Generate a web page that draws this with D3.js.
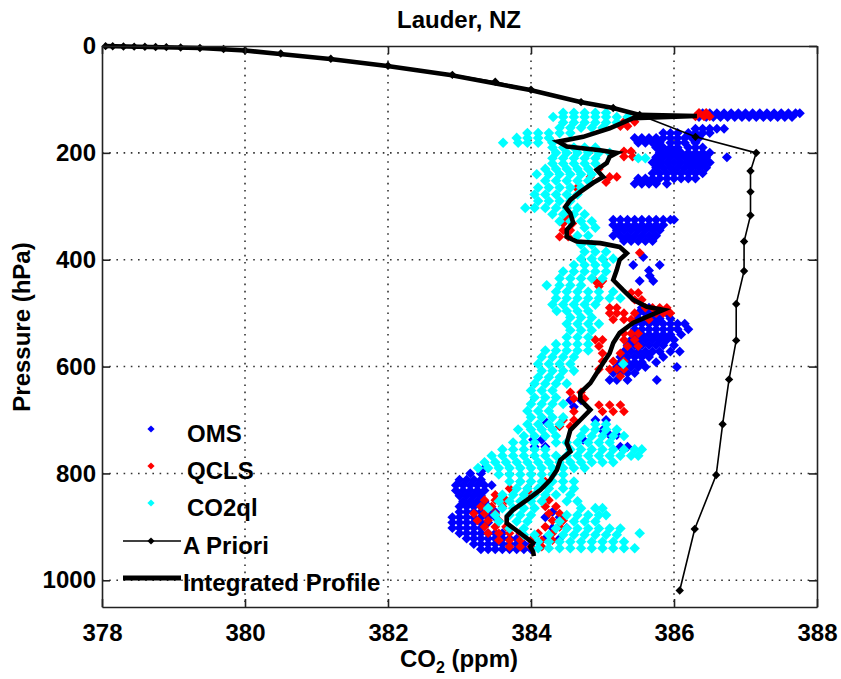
<!DOCTYPE html>
<html><head><meta charset="utf-8">
<script src="https://cdn.jsdelivr.net/npm/d3@7"></script>
<style>
body{margin:0;background:#fff}
svg{display:block}
text{font-family:"Liberation Sans",Arial,Helvetica,sans-serif;font-weight:bold;font-size:24px;fill:#000}
</style>
</head><body>
<svg id="c" width="841" height="679"></svg>
<script>
const xTicks=[378,380,382,384,386,388];
const yTicks=[0,200,400,600,800,1000];
const seriesNames=["OMS","QCLS","CO2ql","A Priori","Integrated Profile"];

// OMS rows: [pressure hPa, [CO2 ppm ...]]
const omsRows=[
[126,[386.4,386.5,386.6,386.7,386.8,386.9,387.0,387.1,387.2,387.3,387.4,387.5,387.6,387.7,387.76]],
[133,[386.35,386.45,386.55,386.65,386.75,386.85,386.95,387.05,387.15,387.25,387.35,387.45,387.55,387.65]],
[155,[386.3,386.4,386.5,386.6,386.7]],
[163,[385.85,385.95,386.05,386.2,386.3,386.4,386.5]],
[172,[385.45,385.55,385.65,385.75,385.85,385.95,386.05,386.15,386.25,386.35]],
[181,[385.5,385.6,385.7,385.8,385.95,386.05,386.15,386.3]],
[190,[385.75,385.85,385.95,386.05,386.2,386.3,386.4]],
[200,[385.8,385.9,386.0,386.1,386.2,386.3,386.4,386.5]],
[208,[385.75,385.85,385.95,386.05,386.15,386.25,386.35,386.45,386.74]],
[218,[385.7,385.8,385.9,386.0,386.1,386.2,386.3,386.4,386.5]],
[228,[385.75,385.85,385.95,386.05,386.15,386.25,386.35,386.45]],
[238,[385.7,385.8,385.9,386.0,386.1,386.2,386.3,386.4]],
[248,[385.5,385.6,385.7,385.8,385.9,386.0,386.1,386.2,386.3]],
[258,[385.45,385.55,385.65,385.75,385.9]],
[325,[385.15,385.25,385.35,385.45,385.55,385.65,385.75,385.85,385.95,386.0]],
[335,[385.15,385.25,385.35,385.45,385.55,385.65,385.75,385.85]],
[345,[385.2,385.3,385.4,385.5,385.6,385.7,385.8]],
[355,[385.15,385.25,385.35,385.45,385.55,385.65,385.75]],
[365,[385.3,385.4,385.5,385.6,385.7]],
[395,[385.57]],[410,[385.43,385.8]],[420,[385.65]],[430,[385.66]],[440,[385.52,385.71]],
[490,[385.55,385.65]],
[500,[385.5,385.6,385.7,385.8,385.9]],
[510,[385.5,385.6,385.7,385.8,385.95]],
[520,[385.45,385.55,385.65,385.75,385.85,385.95,386.05,386.15]],
[530,[385.45,385.55,385.65,385.75,385.85,385.95,386.05,386.2]],
[540,[385.45,385.55,385.65,385.75,385.85,385.95,386.1]],
[550,[385.4,385.5,385.6,385.7,385.8,385.9,386.0]],
[560,[385.35,385.45,385.55,385.65,385.75,385.85,386.0]],
[572,[385.3,385.4,385.5,385.6,385.7,385.8,385.95,386.08]],
[582,[385.25,385.35,385.45,385.55,385.65,385.85]],
[592,[385.25,385.35,385.45,385.55,385.75]],
[601,[385.2,385.3,385.4,385.5,385.6,386.04]],
[612,[385.15,385.25,385.35,385.45]],
[625,[385.1,385.2,385.35,385.76]],
[663,[384.55,384.7]],[675,[384.6]],[700,[384.9,385.05]],[705,[384.22]],[719,[385.0]],
[728,[385.1,385.2]],[737,[384.03,384.15,384.73]],[750,[384.05,384.2,385.25,385.35]],
[790,[383.35]],[800,[383.15,383.3]],
[812,[383.0,383.1,383.2,383.3]],
[822,[382.95,383.05,383.15,383.25,383.35,383.45]],
[832,[382.95,383.05,383.15,383.25,383.35]],
[842,[383.0,383.1,383.2,383.3]],
[852,[383.05,383.15,383.25,383.35]],
[862,[383.0,383.1,383.2,383.3,383.4]],
[872,[383.0,383.1,383.2,383.3,383.4,383.5,384.3]],
[882,[382.9,383.0,383.1,383.2,383.3,383.4,383.5,384.2,384.4]],
[892,[382.9,383.0,383.1,383.2,383.3,383.4]],
[902,[382.9,383.0,383.1,383.2,383.3,384.3,384.5]],
[912,[383.0,383.1,383.2,383.3,383.4,383.5,383.6]],
[922,[383.1,383.2,383.3,383.4,383.5,383.6,383.7,383.8,384.2,384.4]],
[932,[383.2,383.3,383.4,383.5,383.6,383.7,383.8,383.9,384.0]],
[942,[383.3,383.4,383.5,383.6,383.7,383.8,383.9,384.0]]
];

// QCLS rows
const qclsRows=[
[125,[386.35,386.45]],[132,[386.3,386.42,386.5]],
[142,[385.3,385.45]],[150,[385.25,385.35]],[180,[384.3]],[197,[385.3,385.4]],[207,[385.3,385.42]],
[230,[384.95]],[245,[384.83,385.1,385.2]],[255,[385.05]],[266,[384.64]],
[322,[384.5]],[332,[384.45,384.58]],[345,[384.45,384.55]],[357,[384.4,384.52]],
[387,[385.52]],[440,[384.9,385.0]],[450,[384.95]],
[462,[385.4,385.5]],[475,[385.45,385.55]],
[490,[385.1,385.2,385.6,385.7,385.8,385.9]],
[500,[385.1,385.2,385.3,385.45,385.75,385.85,385.95]],
[512,[385.15,385.3,385.4,385.65]],
[538,[385.3,385.4,385.5]],[550,[384.9,385.0,385.3,385.45]],
[562,[384.95,385.35,385.5]],[575,[385.0,385.25]],
[590,[385.0,385.15,385.3]],[605,[384.95,385.1,385.2,385.3]],[618,[385.25]],
[648,[384.55,384.7]],[660,[384.6,384.75]],
[672,[384.95,385.1,385.25]],[684,[384.6,385.0,385.15,385.3]],
[700,[384.45,384.6]],[712,[384.4,384.55]],
[815,[383.85,384.0,384.2]],[828,[383.7,383.95]],[840,[383.5,384.0]],
[850,[383.35,383.5,383.65,384.25]],
[862,[383.3,383.45,383.6,384.2,384.35]],
[875,[383.2,383.35,383.5,384.25,384.4]],
[888,[383.25,383.4,383.55,384.3,384.45]],
[900,[383.35,383.5,383.65,384.2,384.4]],
[912,[383.4,383.55,383.7,383.85,384.1,384.3]],
[925,[383.55,383.7,383.85,384.0,384.15,384.3]],
[937,[383.7,383.85,384.0,384.15]]
];

// CO2ql rows
const co2qlRows=[
[125,[384.45,384.6,384.75,384.9,385.05]],
[133,[384.31,384.45,384.6,384.75,384.9,385.05,385.2,385.35]],
[143,[384.45,384.6,384.75,384.9,385.05,385.2]],
[153,[384.4,384.55,384.7,384.85,385.0]],
[163,[383.95,384.1,384.25,384.4,384.55]],
[172,[383.8,383.95,384.1,384.25]],
[181,[383.61,383.82,383.95,384.1,384.3]],
[190,[384.3,384.45,384.6,384.75,384.9]],
[200,[384.35,384.5,384.65,384.8,384.95,385.1]],
[210,[384.3,384.45,384.6,384.75,384.9,385.5,385.6]],
[220,[384.3,384.45,384.6,384.75,384.9]],
[230,[384.2,384.35,384.5,384.65,384.8]],
[240,[384.08,384.25,384.4,384.55,384.7,384.85]],
[252,[384.2,384.35,384.5,384.65,384.8]],
[265,[384.1,384.25,384.4,384.55,384.7]],
[278,[384.05,384.2,384.35,384.5,384.65]],
[290,[384.1,384.25,384.4,384.55]],
[303,[383.92,384.05,384.2,384.35,384.5,384.65]],
[315,[384.3,384.45,384.6,384.75]],
[328,[384.4,384.55,384.7,384.85]],
[340,[384.75,384.9]],[355,[384.65,384.8]],[372,[384.7,384.85]],
[385,[384.75,384.9,385.05]],
[398,[384.7,384.85,385.0,385.15]],
[410,[384.6,384.75,384.9,385.05]],
[422,[384.45,384.6,384.75,384.9,385.05]],
[435,[384.4,384.55,384.7,384.85,385.0]],
[448,[384.22,384.4,384.55,384.7]],
[460,[384.35,384.5,384.65,384.8,384.95,385.15]],
[472,[384.35,384.5,384.65,384.8,384.95,385.1,385.25]],
[484,[384.3,384.45,384.6,384.75,384.9]],
[496,[384.36,384.5,384.65,384.8]],
[508,[384.55,384.7,384.85]],
[520,[384.5,384.65,384.8,384.95]],
[532,[384.55,384.7,384.85]],
[545,[384.5,384.65,384.8]],
[558,[384.35,384.5,384.65,384.8]],
[570,[384.2,384.35,384.5,384.65,384.8]],
[582,[384.15,384.3,384.45,384.6]],
[595,[384.1,384.25,384.4,384.55,385.29]],
[608,[384.15,384.3,384.45,384.6]],
[620,[384.1,384.25,384.4]],
[632,[384.05,384.2,384.35,384.5]],
[645,[384.0,384.15,384.3]],
[658,[384.05,384.2,384.35]],
[670,[384.0,384.15,384.3,384.45]],
[683,[383.95,384.1,384.25]],
[695,[384.0,384.15,384.3,384.45]],
[708,[383.95,384.1,384.25,384.4,384.9,385.05]],
[718,[383.82,384.0,384.15,384.3,384.75,384.9,385.05,385.2]],
[730,[383.9,384.05,384.2,384.35,384.7,384.85,385.0,385.15,385.3]],
[742,[383.75,383.9,384.05,384.35,384.5,384.65,384.8,384.95,385.1]],
[755,[383.6,383.75,383.9,384.05,384.2,384.55,384.7,384.85,385.0,385.15,385.3,385.45,385.55]],
[767,[383.45,383.6,383.75,383.9,384.05,384.2,384.35,384.5,384.65,384.8,384.95,385.1,385.25,385.4,385.5]],
[779,[383.35,383.5,383.65,383.8,383.95,384.1,384.25,384.4,384.55,384.7,384.85,385.0,385.15]],
[790,[383.26,383.4,383.55,383.7,383.85,384.0,384.15,384.3,384.45,384.6,384.75]],
[802,[383.55,383.7,383.85,384.0,384.15,384.3,384.45]],
[815,[383.7,383.85,384.0,384.15,384.3,384.45,384.6]],
[828,[383.8,383.95,384.1,384.25,384.45,384.6]],
[840,[383.6,383.75,383.9,384.05,384.2,384.35,384.55]],
[852,[383.55,383.7,383.85,384.0,384.15,384.5,384.65]],
[865,[383.4,383.6,383.75,383.9,384.05,384.7,384.9,385.0]],
[878,[383.5,383.7,383.85,384.0,384.5,384.65,384.8,384.95,385.05]],
[890,[383.55,383.8,383.95,384.4,384.6,384.75,384.9]],
[903,[383.7,383.9,384.35,384.5,384.65,384.8,384.95,385.1,385.25]],
[912,[385.52]],
[915,[383.9,384.05,384.25,384.45,384.6,384.75,384.9,385.05,385.2]],
[928,[384.1,384.25,384.4,384.55,384.7,384.85,385.0,385.15,385.3]],
[940,[384.1,384.25,384.4,384.55,384.7,384.85,385.0,385.15,385.3,385.45]]
];

// A priori profile: [CO2 ppm, pressure hPa]
const aprioriCO2=[378.05,378.15,378.3,378.45,378.6,378.75,378.9,379.1,379.37,379.7,380.0,380.5,381.2,382.0,382.9,383.5,384.0,384.7,385.15,385.52,386.30,387.15,387.07,387.07,387.07,386.98,386.98,386.87,386.87,386.77,386.68,386.59,386.29,386.08];
const aprioriP  =[0.3,0.6,0.9,1.2,1.5,1.8,2.1,2.7,3.7,5.5,8.4,14,24,37,54,67,82,105,116,129,170,200,234,273,317,366,421,483,551,624,708,803,904,1019];

// Integrated profile
const integCO2=[378.03,378.67,379.37,380.0,380.49,381.19,381.99,382.87,383.99,384.69,385.15,385.52,386.32,385.43,385.10,384.73,384.38,384.50,384.97,385.20,385.10,385.06,384.92,385.01,384.87,384.69,384.55,384.48,384.55,384.59,384.50,384.50,384.64,384.97,385.24,385.34,385.24,385.20,385.15,385.29,385.43,385.62,385.85,385.62,385.43,385.24,385.15,385.10,385.01,384.92,384.83,384.69,384.69,384.83,384.69,384.55,384.50,384.55,384.41,384.36,384.27,384.13,383.94,383.75,383.66,383.66,383.85,384.03,383.99,384.03,384.04];
const integP  =[0,1.9,3.7,8.4,15,24.3,37.4,54.3,82.4,104.8,116,129,131,135,154,170,179,188,195,200,207,219,232,245,256,273,288,301,313,331,344,357,366,369,376,388,400,419,438,457,475,488,494,507,518,537,556,575,593,612,631,649,662,681,700,719,743,759,775,794,812,831,850,868,881,893,912,930,937,947,955];

const svg=d3.select("#c");
const x=d3.scaleLinear().domain([378,388]).range([102,817]);
const y=d3.scaleLinear().domain([0,1050]).range([46,607]);

const flat=rows=>rows.flatMap(([p,vs])=>vs.map(v=>({v,p})));
const diamond=r=>`M0,${-r}L${r},0L0,${r}L${-r},0Z`;

// grid
const grid=svg.append("g").attr("stroke","#333").attr("stroke-width",1.6).attr("stroke-dasharray","1.6,5.6");
grid.selectAll(".gx").data(xTicks.slice(1,-1)).join("line")
  .attr("x1",d=>x(d)).attr("x2",d=>x(d)).attr("y1",y(0)).attr("y2",y(1050));
grid.selectAll(".gy").data(yTicks.slice(1)).join("line")
  .attr("x1",x(378)).attr("x2",x(388)).attr("y1",d=>y(d)).attr("y2",d=>y(d));

// scatter
function scatter(rows,color,r){
  svg.append("g").selectAll("path").data(flat(rows)).join("path")
    .attr("d",diamond(r)).attr("fill",color)
    .attr("transform",d=>`translate(${x(d.v)},${y(d.p)})`);
}
scatter(omsRows,"#0000ff",5);
scatter(qclsRows,"#ff0000",4.8);
scatter(co2qlRows,"#00ffff",5.3);

// a priori
const apr=aprioriCO2.map((v,i)=>({v,p:aprioriP[i]}));
svg.append("path").datum(apr).attr("fill","none").attr("stroke","#000").attr("stroke-width",1.6)
  .attr("d",d3.line().x(d=>x(d.v)).y(d=>y(d.p)));
svg.append("g").selectAll("path").data(apr).join("path")
  .attr("d",diamond(4.2)).attr("fill","#000")
  .attr("transform",d=>`translate(${x(d.v)},${y(d.p)})`);

// integrated
const integ=integCO2.map((v,i)=>({v,p:integP[i]}));
svg.append("path").datum(integ).attr("fill","none").attr("stroke","#000").attr("stroke-width",4.6)
  .attr("stroke-linejoin","miter").attr("d",d3.line().x(d=>x(d.v)).y(d=>y(d.p)));

// axes
function styleAxis(g){
  g.attr("font-family",null).attr("font-size",null);
  g.select(".domain").attr("stroke","#222").attr("stroke-width",1.6);
  g.selectAll(".tick line").attr("stroke","#222").attr("stroke-width",1.6);
}
svg.append("g").attr("transform",`translate(0,${y(1050)})`)
  .call(d3.axisBottom(x).tickValues(xTicks).tickSize(-8).tickSizeOuter(0).tickPadding(17).tickFormat(d3.format("d")))
  .call(styleAxis);
svg.append("g").attr("transform",`translate(0,${y(0)})`)
  .call(d3.axisTop(x).tickValues(xTicks).tickSize(-8).tickSizeOuter(0).tickFormat(()=>""))
  .call(styleAxis);
svg.append("g").attr("transform",`translate(${x(378)},0)`)
  .call(d3.axisLeft(y).tickValues(yTicks).tickSize(-8).tickSizeOuter(0).tickPadding(6).tickFormat(d3.format("d")))
  .call(styleAxis);
svg.append("g").attr("transform",`translate(${x(388)},0)`)
  .call(d3.axisRight(y).tickValues(yTicks).tickSize(-8).tickSizeOuter(0).tickFormat(()=>""))
  .call(styleAxis);

// titles
svg.append("text").attr("x",459).attr("y",28).attr("text-anchor","middle").text("Lauder, NZ");
const xl=svg.append("text").attr("x",459).attr("y",667).attr("text-anchor","middle");
xl.append("tspan").text("CO");
xl.append("tspan").attr("font-size",16).attr("dy",6).text("2");
xl.append("tspan").attr("dy",-6).text(" (ppm)");
svg.append("text").attr("transform","translate(30,327) rotate(-90)").attr("text-anchor","middle").text("Pressure (hPa)");

// legend
const lg=svg.append("g");
const rowsY=[429,466,503,541,578];
const colors=["#0000ff","#ff0000","#00ffff"];
seriesNames.forEach((name,i)=>{
  const yy=rowsY[i];
  if(i<3){
    lg.append("path").attr("d",diamond(3.6)).attr("fill",colors[i]).attr("transform",`translate(151,${yy})`);
  }else if(i===3){
    lg.append("line").attr("x1",123).attr("x2",181).attr("y1",yy).attr("y2",yy).attr("stroke","#000").attr("stroke-width",1.6);
    lg.append("path").attr("d",diamond(3.6)).attr("fill","#000").attr("transform",`translate(151,${yy})`);
  }else{
    lg.append("line").attr("x1",123).attr("x2",181).attr("y1",yy).attr("y2",yy).attr("stroke","#000").attr("stroke-width",5);
  }
  lg.append("text").attr("x",i<3?187:183).attr("y",yy+13).text(name);
});
</script>
</body></html>
